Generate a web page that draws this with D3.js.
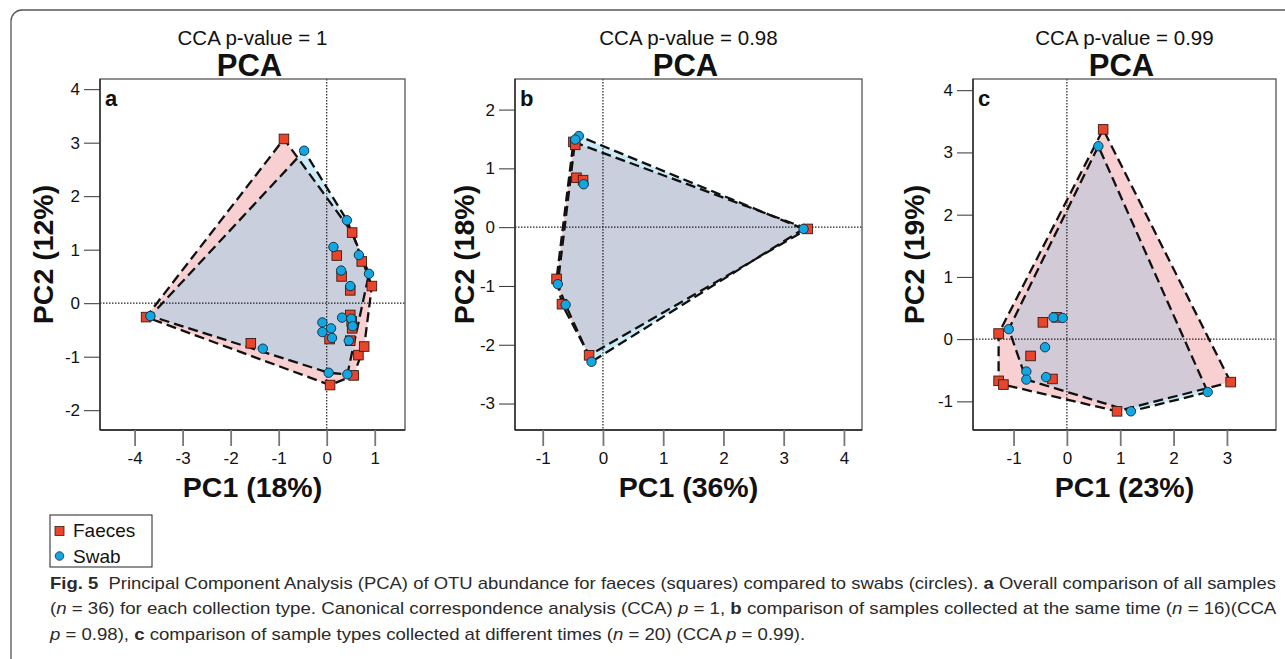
<!DOCTYPE html>
<html>
<head>
<meta charset="utf-8">
<script src="https://cdn.jsdelivr.net/npm/d3@7"></script>
<style>
  html, body { margin: 0; padding: 0; background: #fff; }
  svg { display: block; }
</style>
</head>
<body>
<div id="chart"></div>
<script>
// ---------- data ----------
const pValues = ["1", "0.98", "0.99"];
const panelLetters = ["a", "b", "c"];
const pc1Labels = ["PC1 (18%)", "PC1 (36%)", "PC1 (23%)"];
const pc2Labels = ["PC2 (12%)", "PC2 (18%)", "PC2 (19%)"];

const aTicksX = [-4, -3, -2, -1, 0, 1];
const aTicksY = [-2, -1, 0, 1, 2, 3, 4];
const bTicksX = [-1, 0, 1, 2, 3, 4];
const bTicksY = [-3, -2, -1, 0, 1, 2];
const cTicksX = [-1, 0, 1, 2, 3];
const cTicksY = [-1, 0, 1, 2, 3, 4];

// panel a : all samples
const aFaecesPC1 = [-0.89, -3.76, -1.58, 0.07, 0.56, 0.66, 0.78, 0.94, 0.73, 0.53, 0.21, 0.31, 0.49, 0.49, 0.53, 0.49, 0.06, 0.52];
const aFaecesPC2 = [3.07, -0.26, -0.75, -1.53, -1.35, -0.97, -0.81, 0.32, 0.78, 1.32, 0.89, 0.50, 0.24, -0.22, -0.47, -0.70, -0.67, -0.34];
const aSwabPC1 = [-0.47, -3.67, -1.33, 0.04, 0.43, 0.42, 0.67, 0.88, 0.14, 0.30, 0.49, 0.32, 0.51, 0.54, -0.09, 0.09, -0.09, 0.11, 0.46];
const aSwabPC2 = [2.85, -0.24, -0.85, -1.30, -1.33, 1.55, 0.90, 0.55, 1.05, 0.61, 0.32, -0.27, -0.29, -0.43, -0.36, -0.47, -0.54, -0.65, -0.70];

// panel b : same time
const bFaecesPC1 = [-0.49, -0.46, -0.44, -0.33, 3.40, -0.77, -0.68, -0.23];
const bFaecesPC2 = [1.45, 1.40, 0.84, 0.80, -0.03, -0.88, -1.31, -2.18];
const bSwabPC1 = [-0.40, -0.46, -0.32, 3.33, -0.75, -0.62, -0.19];
const bSwabPC2 = [1.55, 1.49, 0.73, -0.03, -0.97, -1.32, -2.29];

// panel c : different times
const cFaecesPC1 = [0.68, -1.28, -1.28, -1.19, -0.45, -0.19, -0.68, -0.27, 0.94, 3.07];
const cFaecesPC2 = [3.37, 0.09, -0.67, -0.73, 0.27, 0.35, -0.27, -0.64, -1.16, -0.69];
const cSwabPC1 = [0.59, -1.09, -0.25, -0.08, -0.41, -0.76, -0.76, -0.39, 1.20, 2.64];
const cSwabPC2 = [3.10, 0.16, 0.35, 0.34, -0.13, -0.52, -0.65, -0.61, -1.16, -0.85];

const legendLabels = ["Faeces", "Swab"];

// ---------- layout ----------
const width = 1285, height = 659;
const font = "'Liberation Sans', Arial, sans-serif";
const colFaeces = "#e8452c", colSwab = "#13a6e0";
const fillPink = "#f8d0d1", fillBlue = "#cdebf6";

const panels = [
  { fx: aFaecesPC1, fy: aFaecesPC2, sx: aSwabPC1, sy: aSwabPC2, tx: aTicksX, ty: aTicksY,
    left: 100, right: 405, xDom: [-4.72, 1.63], yDom: [-2.37, 4.19], ylabX: 53, overlap: "#c9cfdd" },
  { fx: bFaecesPC1, fy: bFaecesPC2, sx: bSwabPC1, sy: bSwabPC2, tx: bTicksX, ty: bTicksY,
    left: 515, right: 862, xDom: [-1.46, 4.30], yDom: [-3.45, 2.52], ylabX: 474, overlap: "#c9cfdd" },
  { fx: cFaecesPC1, fy: cFaecesPC2, sx: cSwabPC1, sy: cSwabPC2, tx: cTicksX, ty: cTicksY,
    left: 973, right: 1276, xDom: [-1.76, 3.92], yDom: [-1.46, 4.18], ylabX: 924, overlap: "#d3cad7" }
];
const plotTop = 79, plotBottom = 430;

const svg = d3.select("#chart").append("svg")
  .attr("width", width).attr("height", height)
  .attr("viewBox", `0 0 ${width} ${height}`);

// outer figure frame
svg.append("rect")
  .attr("x", 11).attr("y", 10).attr("width", 1320).attr("height", 700)
  .attr("rx", 11)
  .attr("fill", "none").attr("stroke", "#555").attr("stroke-width", 1.3);

const defs = svg.append("defs");

panels.forEach((p, i) => {
  const x = d3.scaleLinear().domain(p.xDom).range([p.left, p.right]);
  const y = d3.scaleLinear().domain(p.yDom).range([plotBottom, plotTop]);
  const cx = (p.left + p.right) / 2;

  // titles
  svg.append("text")
    .attr("x", cx).attr("y", 45).attr("text-anchor", "middle")
    .style("font-family", font).style("font-size", "20.5px").style("fill", "#111")
    .text(`CCA p-value = ${pValues[i]}`);
  svg.append("text")
    .attr("x", cx - 3).attr("y", 76).attr("text-anchor", "middle")
    .style("font-family", font).style("font-size", "31px").style("font-weight", "bold").style("fill", "#111")
    .text("PCA");

  // clip to the plot box
  defs.append("clipPath").attr("id", `box${i}`)
    .append("rect").attr("x", p.left).attr("y", plotTop)
    .attr("width", p.right - p.left).attr("height", plotBottom - plotTop);

  const fPts = p.fx.map((v, k) => [x(v), y(p.fy[k])]);
  const sPts = p.sx.map((v, k) => [x(v), y(p.sy[k])]);
  const fHull = d3.polygonHull(fPts);
  const sHull = d3.polygonHull(sPts);
  const hullPath = h => "M" + h.map(d => d.join(",")).join("L") + "Z";

  defs.append("clipPath").attr("id", `swabHull${i}`)
    .append("path").attr("d", hullPath(sHull));

  const g = svg.append("g").attr("clip-path", `url(#box${i})`);

  // hull fills + overlap
  g.append("path").attr("d", hullPath(fHull)).attr("fill", fillPink);
  g.append("path").attr("d", hullPath(sHull)).attr("fill", fillBlue);
  g.append("path").attr("d", hullPath(fHull)).attr("fill", p.overlap)
    .attr("clip-path", `url(#swabHull${i})`);

  // zero reference lines
  g.append("line")
    .attr("x1", p.left).attr("x2", p.right).attr("y1", y(0)).attr("y2", y(0))
    .attr("stroke", "#222").attr("stroke-width", 1.2).attr("stroke-dasharray", "1.5,1.5");
  g.append("line")
    .attr("x1", x(0)).attr("x2", x(0)).attr("y1", plotTop).attr("y2", plotBottom)
    .attr("stroke", "#222").attr("stroke-width", 1.2).attr("stroke-dasharray", "1.5,1.5");

  // dashed hull outlines
  [fHull, sHull].forEach(h => {
    g.append("path").attr("d", hullPath(h))
      .attr("fill", "none").attr("stroke", "#111")
      .attr("stroke-width", 2.3).attr("stroke-dasharray", "10,5")
      .attr("stroke-linejoin", "round");
  });

  // points: squares (faeces) then circles (swab)
  g.selectAll(".sq").data(fPts).enter().append("rect")
    .attr("x", d => d[0] - 4.8).attr("y", d => d[1] - 4.8)
    .attr("width", 9.6).attr("height", 9.6)
    .attr("fill", colFaeces).attr("stroke", "#3b1a12").attr("stroke-width", 0.9);
  g.selectAll(".ci").data(sPts).enter().append("circle")
    .attr("cx", d => d[0]).attr("cy", d => d[1]).attr("r", 4.7)
    .attr("fill", colSwab).attr("stroke", "#10283a").attr("stroke-width", 0.9);

  // plot box
  svg.append("rect")
    .attr("x", p.left).attr("y", plotTop).attr("width", p.right - p.left).attr("height", plotBottom - plotTop)
    .attr("fill", "none").attr("stroke", "#555").attr("stroke-width", 1.3);
  svg.append("line").attr("x1", p.left).attr("x2", p.left).attr("y1", plotTop).attr("y2", plotBottom)
    .attr("stroke", "#222").attr("stroke-width", 1.3);
  svg.append("line").attr("x1", p.left).attr("x2", p.right).attr("y1", plotBottom).attr("y2", plotBottom)
    .attr("stroke", "#222").attr("stroke-width", 1.3);

  // axes (plain integer labels with ascii hyphen)
  const fmt = d => String(d);
  const xAxis = svg.append("g").attr("transform", `translate(0,${plotBottom})`)
    .call(d3.axisBottom(x).tickValues(p.tx).tickFormat(fmt).tickSize(16).tickSizeOuter(0).tickPadding(6));
  const yAxis = svg.append("g").attr("transform", `translate(${p.left},0)`)
    .call(d3.axisLeft(y).tickValues(p.ty).tickFormat(fmt).tickSize(16).tickSizeOuter(0).tickPadding(4));
  [xAxis, yAxis].forEach(ax => {
    ax.select(".domain").remove();
    ax.selectAll("text").style("font-family", font).style("font-size", "17px").style("fill", "#111");
  });
  xAxis.selectAll("line").attr("stroke", "#777").attr("stroke-width", 1.8);
  yAxis.selectAll("line").attr("stroke", "#333").attr("stroke-width", 1);

  // panel letter
  svg.append("text")
    .attr("x", p.left + 5).attr("y", 106)
    .style("font-family", font).style("font-size", "22px").style("font-weight", "bold").style("fill", "#111")
    .text(panelLetters[i]);

  // axis titles
  svg.append("text")
    .attr("x", cx).attr("y", 497).attr("text-anchor", "middle")
    .style("font-family", font).style("font-size", "28.5px").style("font-weight", "bold").style("fill", "#111")
    .text(pc1Labels[i]);
  svg.append("text")
    .attr("transform", `translate(${p.ylabX},${(plotTop + plotBottom) / 2}) rotate(-90)`)
    .attr("text-anchor", "middle")
    .style("font-family", font).style("font-size", "28.5px").style("font-weight", "bold").style("fill", "#111")
    .text(pc2Labels[i]);
});

// ---------- legend ----------
const lg = svg.append("g");
lg.append("rect").attr("x", 50).attr("y", 515).attr("width", 102).attr("height", 52)
  .attr("fill", "#fff").attr("stroke", "#222").attr("stroke-width", 1);
lg.append("rect").attr("x", 55).attr("y", 526.5).attr("width", 9).attr("height", 9)
  .attr("fill", colFaeces).attr("stroke", "#3b1a12").attr("stroke-width", 0.8);
lg.append("circle").attr("cx", 59.5).attr("cy", 556).attr("r", 4.3)
  .attr("fill", colSwab).attr("stroke", "#10283a").attr("stroke-width", 0.8);
legendLabels.forEach((t, k) => {
  lg.append("text").attr("x", 73).attr("y", 537 + k * 25.5)
    .style("font-family", font).style("font-size", "19px").style("fill", "#111")
    .text(t);
});

// ---------- caption ----------
const capFont = "'Liberation Sans Narrow', 'Liberation Sans', Arial, sans-serif";
const captionLines = [
  { y: 589, w: 1227, parts: [
    ["Fig. 5", "b"], ["  Principal Component Analysis (PCA) of OTU abundance for faeces (squares) compared to swabs (circles). ", ""],
    ["a", "b"], [" Overall comparison of all samples", ""] ] },
  { y: 614, w: 1227, parts: [
    ["(", ""], ["n", "i"], [" = 36) for each collection type. Canonical correspondence analysis (CCA) ", ""], ["p", "i"],
    [" = 1, ", ""], ["b", "b"], [" comparison of samples collected at the same time (", ""], ["n", "i"], [" = 16)(CCA", ""] ] },
  { y: 640, w: 756, parts: [
    ["p", "i"], [" = 0.98), ", ""], ["c", "b"], [" comparison of sample types collected at different times (", ""],
    ["n", "i"], [" = 20) (CCA ", ""], ["p", "i"], [" = 0.99).", ""] ] }
];
captionLines.forEach(line => {
  const t = svg.append("text")
    .attr("x", 0).attr("y", 0)
    .style("font-family", capFont).style("font-size", "16px").style("fill", "#2a2a2a")
    .attr("xml:space", "preserve").style("white-space", "pre");
  line.parts.forEach(([s, st]) => {
    t.append("tspan").text(s)
      .style("font-weight", st === "b" ? "bold" : "normal")
      .style("font-style", st === "i" ? "italic" : "normal");
  });
  const len = t.node().getComputedTextLength();
  t.attr("transform", `translate(50,${line.y}) scale(${line.w / len},1)`);
});
</script>
</body>
</html>
